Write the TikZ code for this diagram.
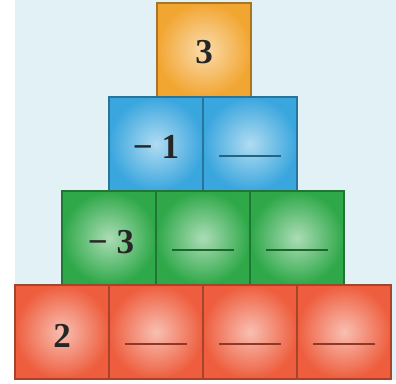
\documentclass[tikz,border=0pt]{standalone}
\usepackage{fontspec}
\setmainfont{Liberation Serif}
\begin{document}
\begin{tikzpicture}[x=1pt,y=1pt,
  cell/.style={draw=#1!70!black, line width=1.2pt, minimum width=94pt, minimum height=94pt,
    inner sep=0pt, outer sep=0pt, anchor=south west, inner color=white!60!#1, outer color=#1},
  num/.style={font=\bfseries\fontsize{35}{40}\selectfont, text=black!85},
  blank/.style={draw=#1!60!black, line width=1.4pt}]
\definecolor{corange}{HTML}{F2A632}
\definecolor{cblue}{HTML}{3AA6DE}
\definecolor{cgreen}{HTML}{2EA848}
\definecolor{cred}{HTML}{EE5E3E}
\definecolor{bgblue}{HTML}{E2F1F6}
\useasboundingbox (0,0) rectangle (396,383);
\fill[bgblue] (15,3) rectangle (396,383);
% top
\node[cell=corange] (t) at (157,286) {};
% blue
\node[cell=cblue] (b1) at (109,192) {};
\node[cell=cblue] (b2) at (203,192) {};
% green
\node[cell=cgreen] (g1) at (62,98) {};
\node[cell=cgreen] (g2) at (156,98) {};
\node[cell=cgreen] (g3) at (250,98) {};
% red
\node[cell=cred] (r1) at (15,4) {};
\node[cell=cred] (r2) at (109,4) {};
\node[cell=cred] (r3) at (203,4) {};
\node[cell=cred] (r4) at (297,4) {};
% texts
\node[num] (tt) at ([yshift=-2pt]t.center) {3};
\node[num] (bt) at ([xshift=0pt,yshift=-3pt]b1.center) {− 1};
\node[num] (gt) at ([xshift=2pt,yshift=-4pt]g1.center) {− 3};
\node[num] (rt) at ([xshift=0pt,yshift=-4pt]r1.center) {2};
% blanks
\foreach \c/\col in {b2/cblue,g2/cgreen,g3/cgreen,r2/cred,r3/cred,r4/cred}{
  \coordinate (\c l) at ([xshift=-31pt,yshift=-12pt]\c.center);
  \coordinate (\c r) at ([xshift=31pt,yshift=-12pt]\c.center);
  \draw[blank=\col] (\c l) -- (\c r);
}
\end{tikzpicture}
\end{document}
